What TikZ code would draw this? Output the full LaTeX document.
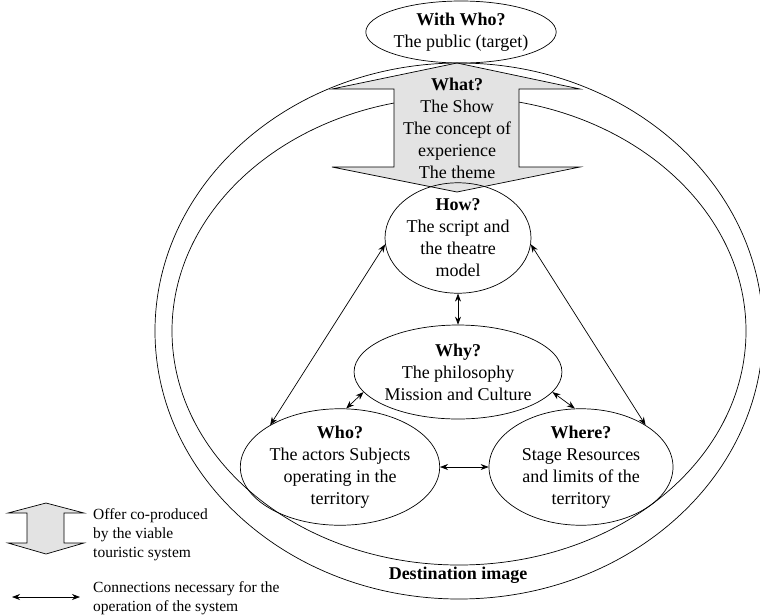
\documentclass[tikz,border=0pt]{standalone}
\usepackage{fontspec}
\setmainfont{Liberation Serif}
\usetikzlibrary{shapes.geometric,arrows.meta}

\tikzset{
    bubble/.style={draw,ellipse,inner sep=0pt,align=center,line width=0.7pt},
    link/.style={{Stealth[length=8pt,width=6pt]}-{Stealth[length=8pt,width=6pt]},line width=0.7pt},
    blockarrow/.style={draw,fill=gray!22,line width=0.7pt},
    legendtext/.style={anchor=west,align=left,inner sep=0pt,font=\fontsize{15.5}{19}\selectfont}
}

\begin{document}
\begin{tikzpicture}[x=1pt,y=-1pt,font=\fontsize{18}{22}\selectfont]
            \useasboundingbox (0,0) rectangle (760,614);
            \clip (0,0) rectangle (760,614);

            \draw[line width=0.7pt] (459,331) ellipse [x radius=304, y radius=268];
            \draw[line width=0.7pt] (459,331) ellipse [x radius=287, y radius=234];

            \draw[blockarrow] (457,63) -- (580,89) -- (519,89) -- (519,167) -- (580,167)
                -- (457,192) -- (332,167) -- (394,167) -- (394,89) -- (332,89) -- cycle;
            \node[align=center,inner sep=0pt] (what) at (457,128) {
                \textbf{What?}\\The Show\\The concept of\\experience\\The theme
            };

            \node[bubble,minimum width=178pt,minimum height=62pt] (withwho) at (461,32)
                {\textbf{With Who?}\\The public (target)};
            \node[bubble,minimum width=146pt,minimum height=94pt] (how) at (458,238)
                {\textbf{How?}\\The script and\\the theatre\\model};
            \node[bubble,minimum width=164pt,minimum height=94pt] (why) at (458,372)
                {\textbf{Why?}\\The philosophy\\Mission and Culture};
            \node[bubble,minimum width=184pt,minimum height=100pt] (who) at (340,467)
                {\textbf{Who?}\\The actors Subjects\\operating in the\\territory};
            \node[bubble,minimum width=184pt,minimum height=100pt] (where) at (581,467)
                {\textbf{Where?}\\Stage Resources\\and limits of the\\territory};

            \draw[link] (how.185) -- (who.149);
            \draw[link] (how.-5) -- (where.33);
            \draw[link] (how.south) -- (why.north);
            \draw[link] (why.192) -- (who.84);
            \draw[link] (why.-12) -- (where.96);
            \draw[link] (who.east) -- (where.west);

            \node[font=\fontsize{18}{22}\selectfont\bfseries] (destination) at (458,575) {Destination image};

            % legend
            \draw[blockarrow] (46,503) -- (84,513) -- (64,513) -- (64,543) -- (84,543)
                -- (46,554) -- (8,543) -- (27,543) -- (27,513) -- (8,513) -- cycle;
            \node[legendtext] (offer) at (93,535) {Offer co-produced\\by the viable\\touristic system};
            \coordinate (linkleft) at (12,597);
            \coordinate (linkright) at (80,597);
            \draw[link] (linkleft) -- (linkright);
            \node[legendtext] (connections) at (93,598) {Connections necessary for the\\operation of the system};
        \end{tikzpicture}
\end{document}
